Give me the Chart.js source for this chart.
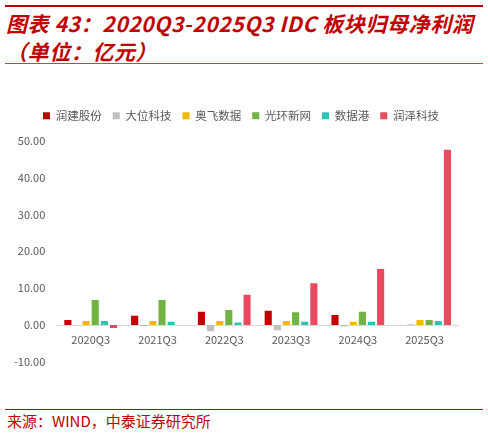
<!DOCTYPE html>
<html>
<head>
<meta charset="utf-8">
<script src="https://cdn.jsdelivr.net/npm/chart.js@4/dist/chart.umd.min.js"></script>
<style>
  html, body { margin: 0; padding: 0; background: #fff; }
  #page { position: relative; width: 488px; height: 434px; overflow: hidden; }
  .topline { position: absolute; left: 5px; top: 5px; width: 478px; height: 2px; background: #c00000; }
  .title { position: absolute; left: 6px; top: 9px; width: 482px; color: #c00000;
           font-family: "Noto Sans CJK SC", sans-serif; font-weight: bold; font-style: italic;
           font-size: 21px; line-height: 28px; letter-spacing: 0.6px; white-space: nowrap; }
  .subline { position: absolute; left: 5px; top: 63px; width: 478px; height: 1px; background: #d04040; }
  .footline { position: absolute; left: 5px; top: 409px; width: 478px; height: 1px; background: #c00000; }
  .source { position: absolute; left: 7px; top: 412px; color: #c00000;
            font-family: "Noto Sans CJK SC", sans-serif; font-size: 15px; line-height: 18px; }
  #wrap { position: absolute; left: 0; top: 66px; width: 488px; height: 340px; }
</style>
</head>
<body>
<div id="page">
  <div class="topline"></div>
  <div class="title">图表 43：2020Q3-2025Q3 IDC 板块归母净利润<br>（单位：亿元）</div>
  <div class="subline"></div>
  <div id="wrap"><canvas id="chart"></canvas></div>
  <div class="footline"></div>
  <div class="source">来源：WIND，中泰证券研究所</div>
</div>
<script>
// 横轴の四半期
const categories = ['2020Q3', '2021Q3', '2022Q3', '2023Q3', '2024Q3', '2025Q3'];

// 各社の帰母純利益（億元）
const runjian = [1.4, 2.5, 3.6, 3.9, 2.7, null];
const dawei = [0, -0.3, -1.7, -1.4, -0.4, 0.2];
const aofei = [1.1, 1.1, 1.1, 1.1, 0.9, 1.4];
const guanghuan = [6.8, 6.8, 4.1, 3.5, 3.6, 1.4];
const shujugang = [1.1, 0.9, 0.7, 0.9, 0.9, 1.1];
const runze = [-0.8, 0, 8.2, 11.3, 15.2, 47.5];

const seriesNames = ['润建股份', '大位科技', '奥飞数据', '光环新网', '数据港', '润泽科技'];
const seriesColors = ['#c00000', '#bfbfbf', '#f5b800', '#72b443', '#2ec4b4', '#e94a60'];

const axisFont = { family: '"Noto Sans CJK SC", sans-serif', size: 11 };

const allSeries = [runjian, dawei, aofei, guanghuan, shujugang, runze];
const datasets = allSeries.map((values, i) => ({
    label: seriesNames[i],
    data: values,
    backgroundColor: seriesColors[i],
    borderWidth: 0,
    categoryPercentage: 0.82,
    barPercentage: 0.78
}));

// 凡例とグラフ本体の間隔を広げ、凡例を少し右へずらす
const legendTweak = {
    id: 'legendTweak',
    beforeInit(chart) {
        const fit = chart.legend.fit;
        chart.legend.fit = function () {
            fit.bind(chart.legend)();
            this.height += 9;
        };
    },
    afterLayout(chart) {
        chart.legend.left += 11;
        chart.legend.right += 11;
    }
};

new Chart(document.getElementById('chart'), {
    type: 'bar',
    data: { labels: categories, datasets: datasets },
    options: {
        responsive: true,
        maintainAspectRatio: false,
        animation: false,
        layout: { padding: { left: 2, right: 30, top: 33, bottom: 44 } },
        plugins: {
            legend: {
                position: 'top',
                labels: {
                    boxWidth: 7,
                    boxHeight: 7,
                    padding: 11,
                    color: '#595959',
                    font: { family: '"Noto Sans CJK SC", sans-serif', size: 11.5 }
                }
            },
            tooltip: { enabled: false }
        },
        scales: {
            x: {
                position: { y: 0 },
                grid: { display: false, drawTicks: false },
                border: { color: '#d9d9d9', width: 1 },
                ticks: { color: '#595959', font: axisFont, padding: 8 }
            },
            y: {
                min: -10,
                max: 50,
                grid: { display: false, drawTicks: false },
                border: { display: false },
                ticks: {
                    stepSize: 10,
                    color: '#595959',
                    font: axisFont,
                    padding: 12,
                    callback: v => v.toFixed(2)
                }
            }
        }
    },
    plugins: [legendTweak]
});
</script>
</body>
</html>
